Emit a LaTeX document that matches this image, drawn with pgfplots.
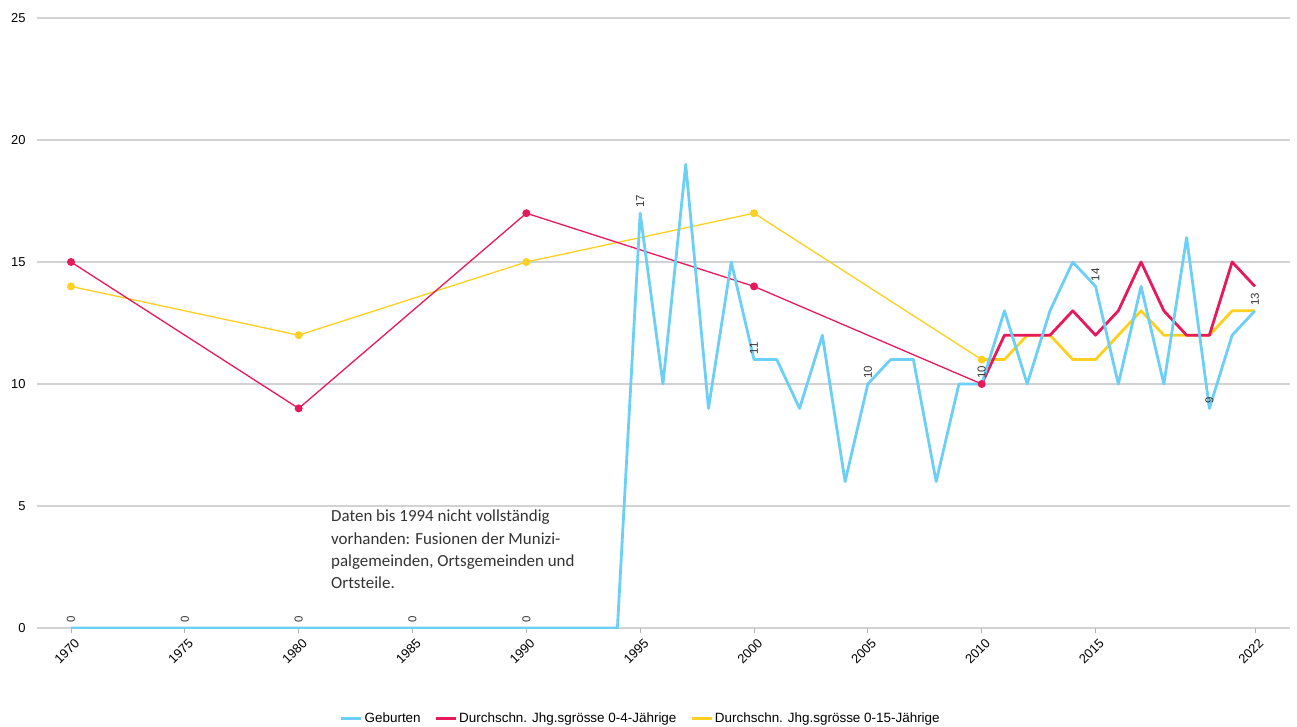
\documentclass[border=0pt]{standalone}
\usepackage{pgfplots}
\pgfplotsset{compat=1.18}
\usepackage{fontspec}
\setmainfont{Liberation Sans}
\newfontfamily\notefont{Carlito}

\definecolor{cblue}{RGB}{108,207,246}
\definecolor{cred}{RGB}{230,25,90}
\definecolor{cyellow}{RGB}{252,208,30}
\definecolor{cgrid}{RGB}{210,210,210}

\begin{document}
\begin{tikzpicture}
\begin{axis}[
    scale only axis,
    width=1253bp, height=610bp,
    xmin=1968.507, xmax=2023.54,
    ymin=0, ymax=25,
    axis x line*=bottom, axis y line*=left,
    axis line style={draw=none},
    xtick={1970,1975,...,2015,2022},
    ytick={0,5,...,25},
    xticklabel={\pgfmathprintnumber[1000 sep={}]{\tick}},
    /pgf/number format/assume math mode=true,
    tick label style={font=\fontsize{13}{15}\selectfont, text=black},
    xticklabel style={rotate=45, anchor=north east, inner sep=1bp, xshift=4bp},
    xticklabel shift=6bp,
    yticklabel style={anchor=east, xshift=-3bp},
    tick align=outside,
    major tick length=5bp,
    x tick style={draw=gray!60, line width=0.8bp},
    y tick style={draw=none},
    ymajorgrids,
    grid style={draw=cgrid, line width=1.2bp},
    legend columns=3,
    legend style={at={(0.482,-0.148)}, anchor=center, draw=none, fill=none,
        font=\fontsize{13.5}{15}\selectfont,
        /tikz/every even column/.append style={column sep=12bp}},
    legend cell align=left,
]
\addlegendimage{legend image code/.code={\draw[cblue, line width=2.5bp] (0bp,0bp) -- (20bp,0bp);}}
\addlegendentry{Geburten}
\addlegendimage{legend image code/.code={\draw[cred, line width=2.5bp] (0bp,0bp) -- (20bp,0bp);}}
\addlegendentry{Durchschn. Jhg.sgrösse 0-4-Jährige}
\addlegendimage{legend image code/.code={\draw[cyellow, line width=2.5bp] (0bp,0bp) -- (20bp,0bp);}}
\addlegendentry{Durchschn. Jhg.sgrösse 0-15-Jährige}

% 0-15-Jaehrige
\addplot[forget plot, cyellow, line width=1.3bp, mark=*, mark size=3.3bp,
    mark options={draw=none, fill=cyellow}] coordinates {
    (1970,14) (1980,12) (1990,15) (2000,17) (2010,11)
};
\addplot[forget plot, cyellow, line width=2.8bp, line join=round] coordinates {
    (2010,11) (2011,11) (2012,12) (2013,12) (2014,11) (2015,11) (2016,12)
    (2017,13) (2018,12) (2019,12) (2020,12) (2021,13) (2022,13)
};
% 0-4-Jaehrige
\addplot[forget plot, cred, line width=1.3bp, mark=*, mark size=3.3bp,
    mark options={draw=none, fill=cred}] coordinates {
    (1970,15) (1980,9) (1990,17) (2000,14) (2010,10)
};
\addplot[forget plot, cred, line width=2.8bp, line join=round] coordinates {
    (2010,10) (2011,12) (2012,12) (2013,12) (2014,13) (2015,12) (2016,13)
    (2017,15) (2018,13) (2019,12) (2020,12) (2021,15) (2022,14)
};
% Geburten
\addplot[forget plot, cblue, line width=2.8bp, line join=round] coordinates {
    (1970,0) (1975,0) (1980,0) (1985,0) (1990,0) (1994,0)
    (1995,17) (1996,10) (1997,19) (1998,9) (1999,15) (2000,11) (2001,11)
    (2002,9) (2003,12) (2004,6) (2005,10) (2006,11) (2007,11) (2008,6)
    (2009,10) (2010,10) (2011,13) (2012,10) (2013,13) (2014,15) (2015,14)
    (2016,10) (2017,14) (2018,10) (2019,16) (2020,9) (2021,12) (2022,13)
};
% value labels
\addplot[forget plot, draw=none, nodes near coords, point meta=explicit symbolic,
    every node near coord/.append style={rotate=90, anchor=west, inner sep=5bp,
        font=\fontsize{11.5}{12}\selectfont, text=black!80}] table[meta=lab] {
x y lab
1970 0 0
1975 0 0
1980 0 0
1985 0 0
1990 0 0
1995 17 17
2000 11 11
2005 10 10
2010 10 10
2015 14 14
2020 9 9
2022 13 13
};

\node[anchor=north west, inner sep=0pt, align=left, text=black!80,
    font=\notefont\fontsize{17}{22.4}\selectfont] at (axis cs:1981.42,4.836)
    {Daten bis 1994 nicht vollständig\\vorhanden: Fusionen der Munizi-\\palgemeinden, Ortsgemeinden und\\Ortsteile.};
\end{axis}
\pgfresetboundingbox
\path[use as bounding box] (-37bp,-99bp) rectangle (1260bp,628bp);
\end{tikzpicture}
\end{document}
